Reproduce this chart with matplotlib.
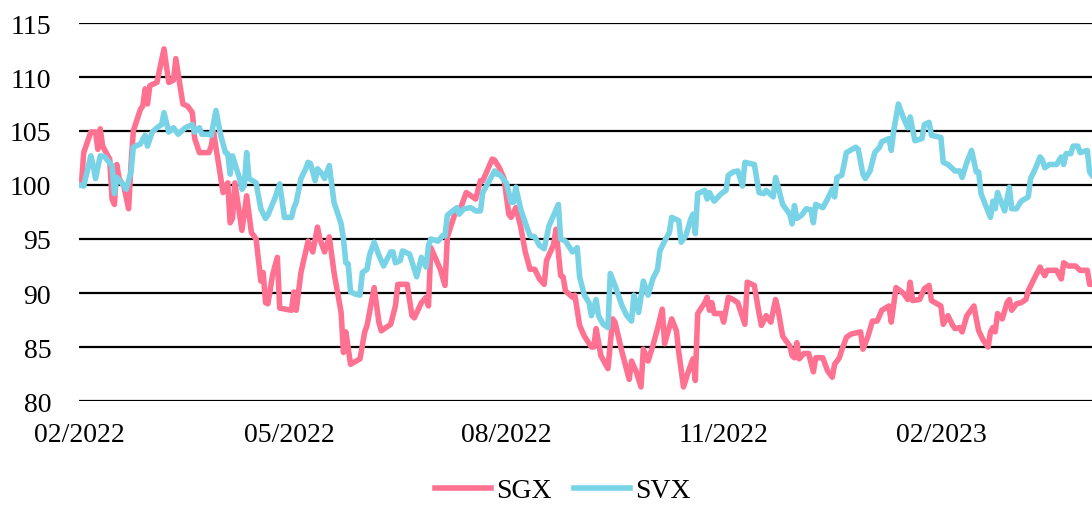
import matplotlib.pyplot as plt
import pandas as pd

start = pd.Timestamp("2022-02-01")

# day offsets from 2022-02-01 and index levels
sgx_day = [1, 2, 5, 7, 8, 9, 10, 13, 14, 15, 16, 17, 19, 21, 22, 23, 26, 27, 28, 29,
           30, 33, 36, 38, 40, 41, 44, 46, 48, 49, 51, 55, 56, 57, 59, 61, 63, 64, 65, 66,
           69, 71, 73, 75, 77, 78, 79, 80, 82, 84, 85, 90, 91, 92, 94, 97, 99, 101, 102, 104,
           106, 108, 111, 112, 113, 115, 119, 121, 122, 125, 127, 128, 132, 134, 135, 139, 141, 142, 145, 147,
           148, 149, 153, 155, 156, 159, 160, 161, 164, 166, 168, 170, 171, 175, 176, 178, 180, 182, 183, 185,
           187, 189, 191, 193, 195, 197, 198, 201, 202, 204, 205, 206, 209, 210, 212, 214, 217, 218, 219, 221,
           224, 226, 227, 230, 233, 234, 236, 238, 239, 241, 243, 245, 247, 248, 251, 253, 254, 256, 258, 260,
           261, 262, 265, 266, 267, 268, 269, 272, 273, 275, 277, 279, 282, 283, 286, 287, 288, 289, 291, 293,
           295, 296, 298, 301, 302, 303, 304, 305, 307, 309, 311, 312, 315, 317, 319, 320, 322, 323, 325, 327,
           331, 332, 334, 336, 338, 340, 343, 344, 346, 349, 351, 352, 353, 356, 358, 360, 361, 365, 366, 368,
           370, 371, 373, 374, 376, 379, 380, 381, 383, 385, 386, 387, 388, 389, 391, 393, 394, 395, 397, 399,
           401, 402, 404, 407, 409, 410, 414, 416, 417, 419, 422, 424, 427, 428, 429]
sgx_val = [100.0, 103.0, 104.9, 104.9, 103.3, 105.2, 103.6, 102.4, 98.7, 98.2, 101.9, 100.6, 99.9, 97.8, 101.8, 105.0, 107.0, 107.3, 108.9, 107.5,
           109.2, 109.5, 112.6, 109.5, 109.7, 111.7, 107.5, 107.3, 106.7, 104.3, 103.0, 103.0, 103.6, 104.9, 102.1, 99.3, 100.2, 96.5, 96.9, 100.2,
           95.8, 99.0, 95.6, 95.0, 91.1, 91.9, 89.1, 89.0, 91.7, 93.3, 88.6, 88.4, 90.1, 88.4, 91.9, 94.8, 93.8, 96.1, 95.0, 93.8,
           95.2, 91.9, 88.2, 84.5, 86.4, 83.4, 83.9, 86.4, 87.0, 90.5, 87.3, 86.5, 87.1, 88.8, 90.8, 90.8, 87.9, 87.7, 89.1, 89.6,
           88.8, 94.2, 92.2, 90.7, 95.2, 97.2, 97.8, 97.5, 99.3, 99.0, 98.7, 100.4, 100.4, 102.4, 102.3, 101.6, 100.6, 97.3, 97.0, 97.9,
           96.2, 93.8, 92.2, 92.2, 91.3, 90.8, 93.0, 94.5, 95.9, 91.6, 91.5, 90.2, 89.6, 89.8, 87.0, 86.0, 85.0, 85.0, 86.7, 84.2,
           83.0, 87.6, 87.3, 84.5, 82.0, 83.7, 82.7, 81.3, 84.8, 83.7, 85.1, 86.7, 88.5, 85.3, 87.6, 86.5, 84.5, 81.3, 82.7, 83.9,
           81.9, 88.1, 89.1, 89.6, 88.4, 89.1, 88.1, 88.1, 87.3, 89.6, 89.4, 89.1, 87.1, 91.0, 90.7, 89.4, 88.1, 87.0, 87.9, 87.3,
           89.4, 88.5, 86.0, 85.1, 84.2, 84.0, 85.4, 83.9, 84.4, 84.4, 82.7, 84.0, 84.0, 82.8, 82.2, 83.4, 84.0, 84.7, 85.9, 86.2,
           86.4, 84.8, 85.9, 87.4, 87.4, 88.4, 88.8, 87.3, 90.5, 90.0, 89.4, 91.0, 89.3, 89.4, 90.4, 90.7, 89.3, 88.8, 87.1, 87.9,
           87.0, 86.7, 86.8, 86.4, 87.9, 88.8, 87.6, 86.5, 85.6, 85.0, 86.4, 86.8, 86.4, 88.1, 87.6, 89.1, 89.4, 88.4, 89.0, 89.1,
           89.4, 90.2, 91.1, 92.4, 91.6, 92.1, 92.1, 91.3, 92.8, 92.5, 92.5, 92.1, 92.1, 90.8, 90.8]

svx_day = [0, 2, 5, 6, 7, 9, 11, 12, 14, 15, 16, 18, 20, 22, 23, 26, 28, 29, 31, 33,
           35, 36, 38, 40, 42, 45, 48, 49, 51, 52, 55, 56, 58, 60, 62, 63, 64, 65, 68, 69,
           70, 71, 72, 75, 77, 79, 80, 83, 85, 87, 90, 91, 92, 94, 96, 97, 98, 100, 101, 103,
           104, 106, 108, 111, 112, 113, 114, 115, 117, 119, 120, 122, 123, 125, 127, 129, 132, 133, 134, 136,
           137, 140, 143, 145, 147, 148, 149, 152, 154, 155, 156, 160, 161, 163, 166, 168, 170, 171, 173, 176,
           177, 178, 181, 183, 184, 185, 187, 189, 191, 193, 195, 197, 199, 201, 203, 204, 206, 209, 211, 212,
           214, 216, 217, 219, 220, 222, 224, 225, 227, 230, 232, 234, 235, 237, 239, 241, 243, 245, 246, 248,
           250, 251, 254, 255, 257, 259, 260, 261, 262, 265, 266, 267, 269, 272, 274, 275, 277, 279, 281, 282,
           286, 288, 290, 291, 294, 295, 296, 298, 301, 302, 303, 304, 306, 308, 310, 311, 312, 315, 317, 319,
           320, 321, 323, 324, 325, 329, 330, 332, 333, 335, 337, 339, 340, 343, 344, 345, 347, 349, 351, 352,
           354, 357, 358, 360, 361, 365, 366, 368, 371, 373, 374, 376, 378, 380, 381, 382, 384, 386, 387, 388,
           389, 392, 394, 395, 397, 399, 402, 403, 405, 407, 408, 409, 411, 414, 416, 417, 418, 420, 421, 423,
           424, 427, 428, 429]
svx_val = [100.0, 99.9, 102.7, 101.8, 100.6, 102.7, 102.6, 102.3, 101.8, 99.2, 100.7, 100.2, 99.6, 101.2, 103.5, 103.8, 104.6, 103.6, 104.9, 105.3,
           105.6, 106.7, 104.9, 105.3, 104.7, 105.3, 105.6, 104.9, 105.3, 104.7, 104.7, 104.6, 106.9, 104.6, 103.0, 102.9, 101.0, 102.7, 100.6, 99.6,
           99.9, 103.0, 100.6, 100.2, 97.8, 96.9, 97.2, 98.8, 100.1, 97.0, 97.0, 97.9, 98.4, 100.6, 101.5, 102.1, 102.0, 100.4, 101.5, 101.0,
           100.6, 101.8, 98.4, 96.4, 95.0, 92.8, 92.7, 90.1, 89.9, 89.8, 91.9, 92.2, 93.5, 94.7, 93.5, 92.5, 93.8, 93.8, 92.8, 93.0,
           93.9, 93.6, 91.5, 93.3, 92.4, 94.4, 95.0, 94.8, 95.3, 95.3, 97.2, 97.9, 97.3, 97.8, 97.9, 97.6, 97.6, 99.3, 100.1, 101.3,
           101.0, 101.0, 100.2, 98.4, 98.4, 99.8, 97.8, 96.5, 95.3, 95.2, 94.4, 94.1, 96.2, 97.2, 98.2, 95.0, 94.8, 93.8, 94.2, 91.5,
           89.8, 89.1, 87.9, 89.4, 87.9, 87.1, 86.8, 91.8, 90.7, 88.8, 87.9, 87.4, 89.8, 88.2, 91.1, 89.8, 91.3, 92.2, 93.9, 94.8,
           95.6, 97.0, 96.7, 94.7, 95.3, 96.8, 97.3, 95.5, 99.2, 99.5, 98.7, 99.3, 98.5, 99.2, 99.5, 100.9, 101.2, 101.3, 99.9, 102.1,
           101.9, 99.3, 99.2, 99.5, 98.9, 100.7, 99.9, 98.2, 97.3, 96.4, 98.1, 96.9, 97.2, 97.8, 97.7, 96.5, 98.2, 97.9, 98.7, 99.6,
           98.9, 100.7, 100.9, 101.9, 103.0, 103.5, 103.3, 101.0, 100.6, 101.3, 103.0, 103.5, 104.0, 104.3, 103.2, 105.0, 107.5, 106.3, 105.3, 106.3,
           104.1, 104.3, 105.6, 105.8, 104.6, 104.4, 102.1, 101.9, 101.3, 101.3, 100.7, 102.1, 103.2, 101.2, 101.2, 99.2, 98.1, 97.0, 98.5, 97.8,
           99.3, 97.6, 99.8, 97.8, 97.8, 98.5, 98.9, 100.6, 101.5, 102.6, 102.3, 101.6, 101.9, 101.9, 102.6, 101.9, 102.9, 102.9, 103.6, 103.6,
           103.0, 103.2, 101.2, 100.9]

tick_dates = ["2022-02-01", "2022-05-01", "2022-08-01", "2022-11-01", "2023-02-01"]
tick_labels = ["02/2022", "05/2022", "08/2022", "11/2022", "02/2023"]

sgx_x = start + pd.to_timedelta(sgx_day, unit="D")
svx_x = start + pd.to_timedelta(svx_day, unit="D")

plt.rcParams['font.family'] = ['Liberation Serif', 'DejaVu Serif']

fig = plt.figure(figsize=(10.92, 5.06), dpi=100)
ax = fig.add_axes([79 / 1092, 1 - 402 / 506, 1 - 79 / 1092, (402 - 24) / 506])

ax.plot(sgx_x, sgx_val, color="#ff7191", lw=4.0, solid_joinstyle="round", label="SGX", zorder=3)
ax.plot(svx_x, svx_val, color="#79d3e6", lw=4.0, solid_joinstyle="round", label="SVX", zorder=4)

ax.set_ylim(80, 115)
ax.set_yticks(range(80, 116, 5))
ax.set_xlim(start, svx_x[-1])
ax.set_xticks(pd.to_datetime(tick_dates))
ax.set_xticklabels(tick_labels)

# horizontal grid only, no frame
ax.grid(axis="y", color="black", lw=1.6, zorder=1)
ax.set_axisbelow(True)
for s in ax.spines.values():
    s.set_visible(False)
ax.tick_params(axis="both", length=0, labelsize=20)
ax.tick_params(axis="y", pad=20)
ax.tick_params(axis="x", pad=15)

ax.legend(loc="lower center", bbox_to_anchor=(0.478, -0.3), ncol=2, frameon=False,
          fontsize=20, handlelength=2.0, handletextpad=0.2, columnspacing=0.8,
          borderaxespad=0)

fig.savefig("out.png", dpi=100)
